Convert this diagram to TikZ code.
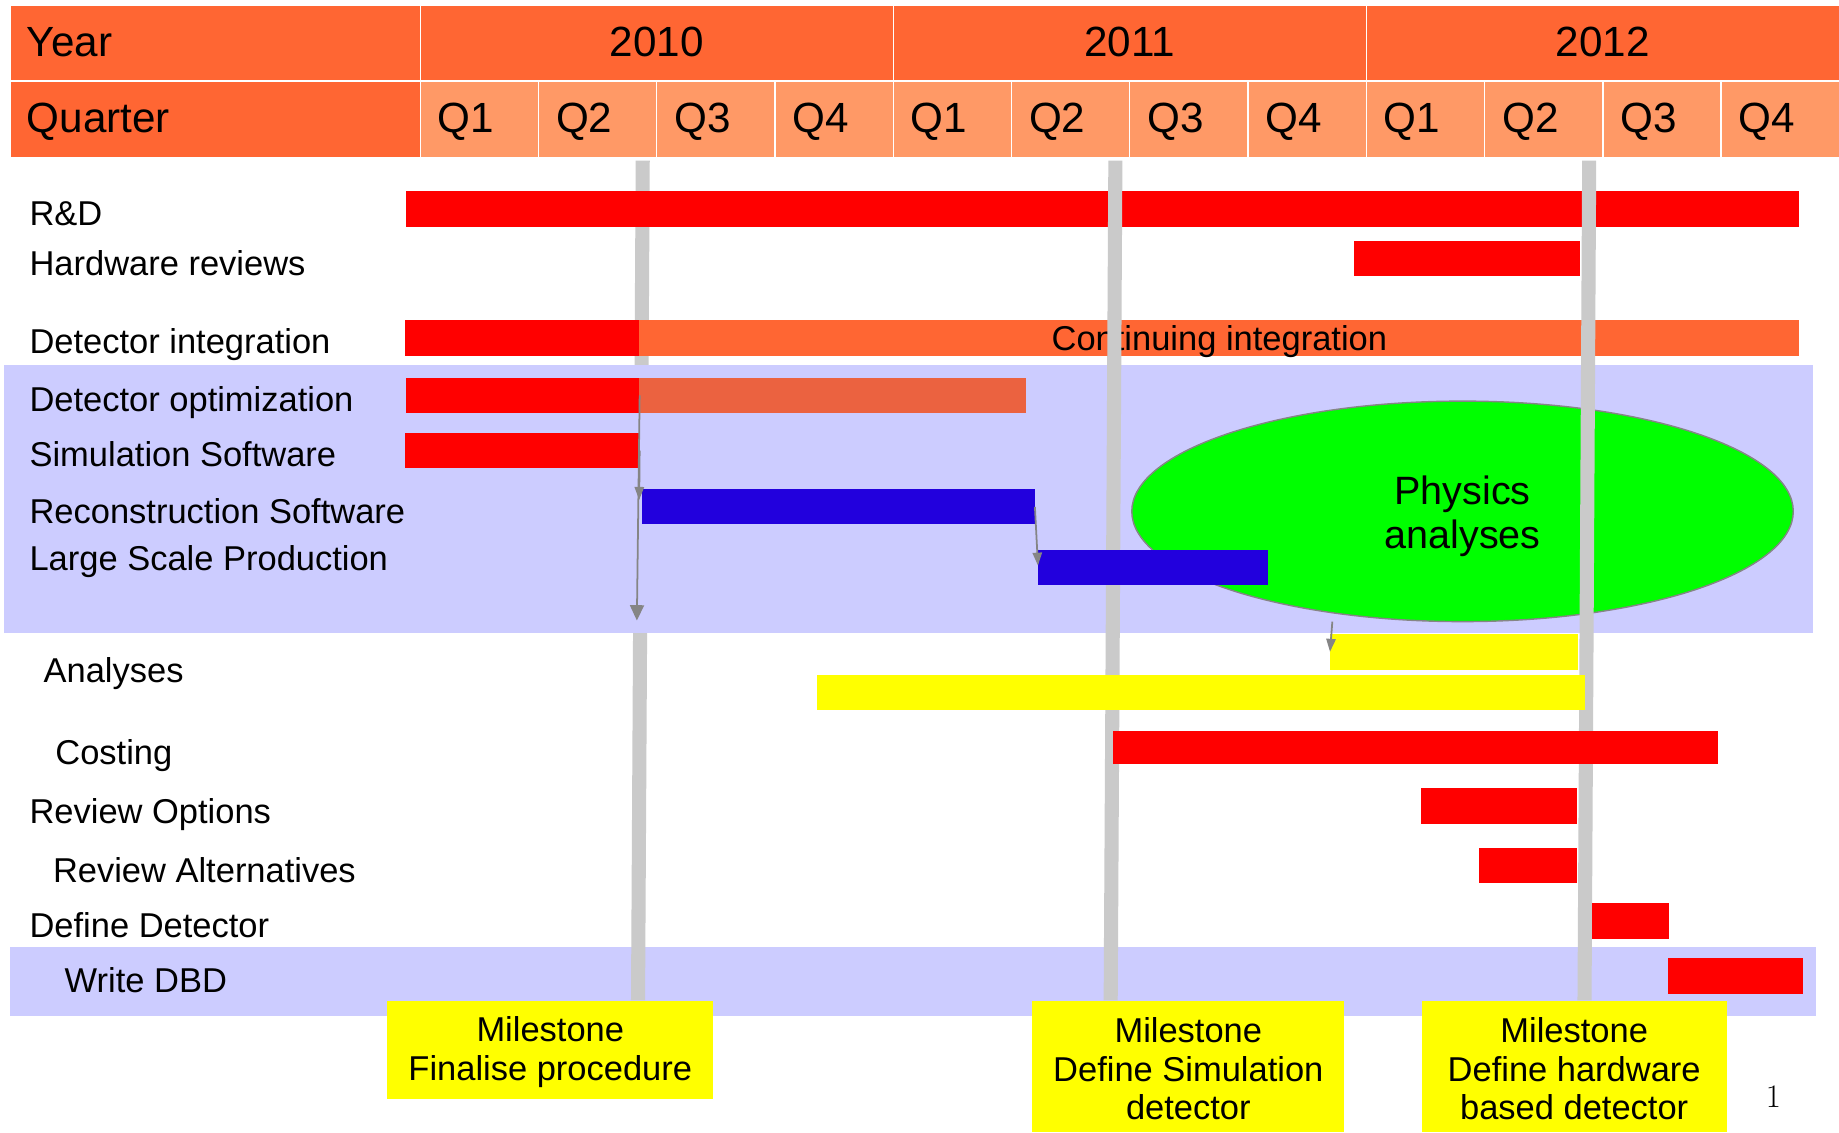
\documentclass[tikz,border=0pt]{standalone}
\usepackage{fontspec}
\setsansfont{Liberation Sans}
\usetikzlibrary{arrows.meta,shapes}

\definecolor{hdark}{HTML}{FF6633}
\definecolor{hlight}{HTML}{FF9966}
\definecolor{barred}{HTML}{FF0000}
\definecolor{barsalmon}{HTML}{EB6240}
\definecolor{barblue}{HTML}{2200DD}
\definecolor{baryellow}{HTML}{FFFF00}
\definecolor{physgreen}{HTML}{00FF00}
\definecolor{band}{HTML}{CCCCFF}
\definecolor{mgray}{HTML}{CACACA}
\definecolor{agray}{HTML}{858585}

\begin{document}
\begin{tikzpicture}[x=1pt,y=-1pt,font=\sffamily,
    flow/.style={draw=agray,line width=1.5pt,-{Triangle[length=11pt,width=8pt]}},
    bigflow/.style={flow,-{Triangle[length=13pt,width=12pt]}}]
        \tikzstyle{hcell}=[draw=white,line width=1.2pt,fill=hdark,anchor=north west,inner sep=0pt,text height=26pt,text depth=4pt,font=\sffamily\fontsize{36}{40}\selectfont]
        \tikzstyle{qcell}=[hcell,fill=hlight,minimum width=100.83pt,minimum height=65.1pt,text width=70.8pt,inner xsep=15pt,align=left]
        \tikzstyle{task}=[anchor=west,inner sep=0pt,text height=21pt,text depth=0pt,font=\sffamily\fontsize{29.4}{33}\selectfont]
        \tikzstyle{gbar}=[anchor=north west,inner sep=0pt,minimum height=30pt,fill=barred]
        \tikzstyle{mline}=[draw=mgray,line width=12pt]
        \tikzstyle{milestone}=[anchor=north west,inner sep=0pt,fill=baryellow,align=center,font=\sffamily\fontsize{29.4}{33}\selectfont]

        \useasboundingbox (0,0) rectangle (1568,966);

        \node[hcell,minimum width=349.7pt,minimum height=64.2pt,text width=321pt,inner xsep=14pt,align=left] (year) at (8,4.3) {Year};
        \node[hcell,minimum width=349.7pt,minimum height=65.1pt,text width=321pt,inner xsep=14pt,align=left] (quarter) at (8,68.5) {Quarter};
        \foreach \yy [count=\i from 0] in {2010,2011,2012}
            \node[hcell,minimum width=403.3pt,minimum height=64.2pt] (y\yy) at (357.7+403.3*\i,4.3) {\yy};
        \foreach \q [evaluate=\q as \n using {int(mod(\q,4)+1)}] in {0,...,11}
            \node[qcell] (q\q) at (357.7+100.83*\q,68.5) {Q\n};

        \node[task] (rd)     at (25,182) {R\&D};
        \node[task] (hw)     at (25,224) {Hardware reviews};
        \node[task] (integ)  at (25,291) {Detector integration};

        \node[anchor=north west,inner sep=0pt,fill=band,minimum width=1540pt,minimum height=59pt] (band2) at (8,807) {};

        \coordinate (m1t) at (548,137);
        \coordinate (m1b) at (544,853);
        \coordinate (m2t) at (951,137);
        \coordinate (m2b) at (947,853);
        \coordinate (m3t) at (1355,137);
        \coordinate (m3b) at (1351,853);
        \draw[mline] (m1t) -- (m1b);

        \node[gbar,minimum width=1188pt] (rdbar) at (346,163) {};
        \node[gbar,minimum width=193pt] (hwbar) at (1154,205) {};
        \node[gbar,minimum width=200pt] (intA) at (345,273) {};
        \node[gbar,minimum width=989pt,fill=hdark,text height=21pt,text depth=0pt,font=\sffamily\fontsize{29.4}{33}\selectfont] (intB) at (545,273) {Continuing integration};

        \node[anchor=north west,inner sep=0pt,fill=band,minimum width=1543pt,minimum height=228.5pt] (band1) at (3,311) {};

        \node[task] (opt)    at (25,340) {Detector optimization};
        \node[task] (sim)    at (25,387) {Simulation Software};
        \node[task] (reco)   at (25,436) {Reconstruction Software};
        \node[task] (lsprod) at (25,476) {Large Scale Production};

        \node[ellipse,draw=agray,line width=1.2pt,fill=physgreen,minimum width=564pt,minimum height=188pt,inner sep=0pt,align=center,font=\sffamily\fontsize{33.7}{38}\selectfont] (phys) at (1247,436) {\rule{0pt}{32.6pt}Physics\\analyses};

        \draw[mline] (m2t) -- (m2b);
        \draw[mline] (m3t) -- (m3b);

        \node[gbar,minimum width=199pt] (optA) at (346,322) {};
        \node[gbar,minimum width=330pt,fill=barsalmon] (optB) at (545,322) {};
        \node[gbar,minimum width=200pt] (simA) at (345,369) {};
        \node[gbar,minimum width=335pt,fill=barblue] (recon) at (547,417) {};
        \node[gbar,minimum width=196pt,fill=barblue] (lsp) at (885,469) {};

        \coordinate (a1) at (543,529);
        \coordinate (a4) at (1136,530);
        \draw[bigflow] (optA.east) -- (a1);
        \draw[flow] (simA.east) -- ([xshift=-2pt,yshift=6pt]recon.west);
        \draw[flow] (recon.east) -- ([yshift=2pt]lsp.west);

        \node[task] (ana)    at (37,571) {Analyses};
        \node[task] (cost)   at (47,641) {Costing};
        \node[task] (revopt) at (25,692) {Review Options};
        \node[task] (revalt) at (45,742) {Review Alternatives};
        \node[task] (defdet) at (25,789) {Define Detector};
        \node[task] (dbd)    at (55,836) {Write DBD};

        \node[gbar,minimum width=211.5pt,minimum height=31pt,fill=baryellow] (ana1) at (1134,540) {};
        \node[gbar,minimum width=655.5pt,fill=baryellow] (ana2) at (696,575) {};
        \draw[flow] (a4) -- (ana1.west);
        \node[gbar,minimum width=516pt,minimum height=28pt] (costbar) at (949,623) {};
        \node[gbar,minimum width=133pt] (revoptbar) at (1211,672) {};
        \node[gbar,minimum width=83pt] (revaltbar) at (1261,723) {};
        \node[gbar,minimum width=66pt] (defdetbar) at (1357,770) {};
        \node[gbar,minimum width=115pt] (dbdbar) at (1422,817) {};

        \node[milestone,minimum width=278pt,minimum height=84pt] (ms1) at (330,853) {\rule{0pt}{25.5pt}Milestone\\Finalise procedure};
        \node[milestone,minimum width=266pt,minimum height=112pt] (ms2) at (880,853) {\rule{0pt}{25.5pt}Milestone\\Define Simulation\\detector};
        \node[milestone,minimum width=260pt,minimum height=112pt] (ms3) at (1212,853) {\rule{0pt}{25.5pt}Milestone\\Define hardware\\based detector};

        \node[font=\rmfamily\fontsize{28}{30}\selectfont,inner sep=0pt] (page) at (1512,935) {1};
\end{tikzpicture}
\end{document}
